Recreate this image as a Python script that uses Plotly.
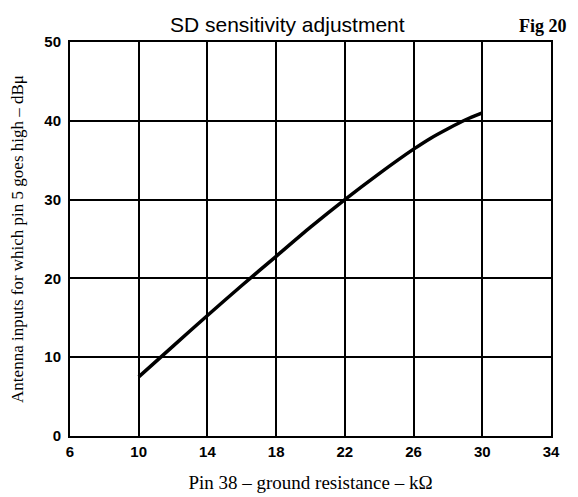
import plotly.graph_objects as go

resistance_kohm = [10, 12, 14, 16, 18, 20, 22, 24, 26, 27, 28, 29, 30]
antenna_dbu = [7.5, 11.4, 15.3, 19.1, 22.8, 26.5, 30.0, 33.3, 36.4, 37.8, 39.0, 40.1, 41.0]

x_ticks = [6, 10, 14, 18, 22, 26, 30, 34]
y_ticks = [0, 10, 20, 30, 40, 50]

fig = go.Figure()
fig.add_trace(go.Scatter(
    x=resistance_kohm, y=antenna_dbu, mode="lines",
    line=dict(color="black", width=3.5, shape="spline", smoothing=0.8),
    showlegend=False, hoverinfo="skip",
))

axis_common = dict(
    showgrid=True, gridcolor="black", gridwidth=1.8,
    showline=True, linecolor="black", linewidth=2, mirror=True,
    zeroline=False, ticks="", automargin=False,
    tickfont=dict(family="Liberation Sans, Arial, sans-serif", size=15, color="black", weight="bold"),
)

fig.update_layout(
    width=570, height=489,
    margin=dict(l=62, r=27, t=34, b=61),
    paper_bgcolor="white", plot_bgcolor="white",
    xaxis=dict(range=[6, 34], tickvals=x_ticks, ticklabelstandoff=1,
               title=dict(text="Pin 38 – ground resistance – kΩ",
                          font=dict(family="Liberation Serif, Times New Roman, serif", size=19, color="black"),
                          standoff=17),
               **axis_common),
    yaxis=dict(range=[0, 50], tickvals=y_ticks, ticklabelstandoff=4,
               title=dict(text="Antenna inputs for which pin 5 goes high – dBμ",
                          font=dict(family="Liberation Serif, Times New Roman, serif", size=17, color="black"),
                          standoff=20),
               **axis_common),
)
fig.add_annotation(text="SD sensitivity adjustment", xref="paper", yref="paper",
                   x=0.453, y=1.0, yanchor="bottom", yshift=4, showarrow=False,
                   font=dict(family="Liberation Sans, Arial, sans-serif", size=21, color="black"))
fig.add_annotation(text="Fig 20", xref="paper", yref="paper",
                   x=1.0, y=1.0, xanchor="right", yanchor="bottom", yshift=4, xshift=18, showarrow=False,
                   font=dict(family="Liberation Serif, Times New Roman, serif", size=18, color="black", weight="bold"))

fig.write_html("out.html")
